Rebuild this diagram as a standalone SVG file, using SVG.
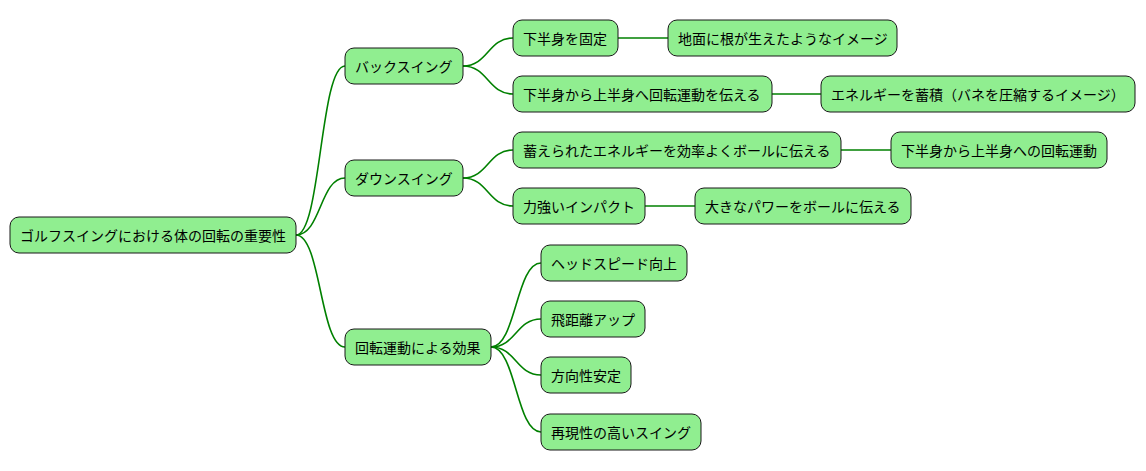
<svg xmlns="http://www.w3.org/2000/svg" width="1146" height="471" viewBox="0 0 1146 471">
<style>
.n rect{fill:#90EE90;stroke:#181818;stroke-width:1}
.n text{font-family:"Noto Sans CJK JP","Noto Sans",sans-serif;font-size:14px;fill:#000;dominant-baseline:central}
#edges path{fill:none;stroke:#008000;stroke-width:1.6}
</style>
<rect width="1146" height="471" fill="#fff"/>
<g id="edges">
<path d="M296,235 C321,235 320,66 345,66"/>
<path d="M296,235 C321,235 320,178 345,178"/>
<path d="M296,235 C321,235 320,347 345,347"/>
<path d="M463,66 C488,66 488,38 513,38"/>
<path d="M463,66 C488,66 488,94 513,94"/>
<path d="M618,38 L668,38"/>
<path d="M772,94 L821,94"/>
<path d="M463,178 C488,178 488,150 513,150"/>
<path d="M463,178 C488,178 488,206 513,206"/>
<path d="M841,150 L891,150"/>
<path d="M645,206 L695,206"/>
<path d="M491,347 C516,347 516,263 541,263"/>
<path d="M491,347 C516,347 516,319 541,319"/>
<path d="M491,347 C516,347 516,375 541,375"/>
<path d="M491,347 C516,347 516,432 541,432"/>
</g>
<g id="root" class="n"><rect x="10" y="217" width="286" height="36" rx="9"/><text x="20" y="235">ゴルフスイングにおける体の回転の重要性</text></g>
<g id="back" class="n"><rect x="345" y="48" width="118" height="36" rx="9"/><text x="355" y="66">バックスイング</text></g>
<g id="kotei" class="n"><rect x="513" y="20" width="105" height="36" rx="9"/><text x="523" y="38">下半身を固定</text></g>
<g id="jimen" class="n"><rect x="668" y="20" width="229" height="36" rx="9"/><text x="678" y="38">地面に根が生えたようなイメージ</text></g>
<g id="tsutaeru" class="n"><rect x="513" y="76" width="259" height="36" rx="9"/><text x="523" y="94">下半身から上半身へ回転運動を伝える</text></g>
<g id="chikuseki" class="n"><rect x="821" y="76" width="314" height="36" rx="9"/><text x="831" y="94">エネルギーを蓄積（バネを圧縮するイメージ）</text></g>
<g id="down" class="n"><rect x="345" y="160" width="118" height="36" rx="9"/><text x="355" y="178">ダウンスイング</text></g>
<g id="kouritsu" class="n"><rect x="513" y="132" width="328" height="36" rx="9"/><text x="523" y="150">蓄えられたエネルギーを効率よくボールに伝える</text></g>
<g id="kaiten2" class="n"><rect x="891" y="132" width="216" height="36" rx="9"/><text x="901" y="150">下半身から上半身への回転運動</text></g>
<g id="impact" class="n"><rect x="513" y="188" width="132" height="36" rx="9"/><text x="523" y="206">力強いインパクト</text></g>
<g id="power" class="n"><rect x="695" y="188" width="216" height="36" rx="9"/><text x="705" y="206">大きなパワーをボールに伝える</text></g>
<g id="kouka" class="n"><rect x="345" y="329" width="146" height="36" rx="9"/><text x="355" y="347">回転運動による効果</text></g>
<g id="head" class="n"><rect x="541" y="245" width="146" height="36" rx="9"/><text x="551" y="263">ヘッドスピード向上</text></g>
<g id="hikyori" class="n"><rect x="541" y="301" width="104" height="36" rx="9"/><text x="551" y="319">飛距離アップ</text></g>
<g id="houkou" class="n"><rect x="541" y="357" width="90" height="36" rx="9"/><text x="551" y="375">方向性安定</text></g>
<g id="saigen" class="n"><rect x="541" y="414" width="160" height="36" rx="9"/><text x="551" y="432">再現性の高いスイング</text></g>
</svg>
